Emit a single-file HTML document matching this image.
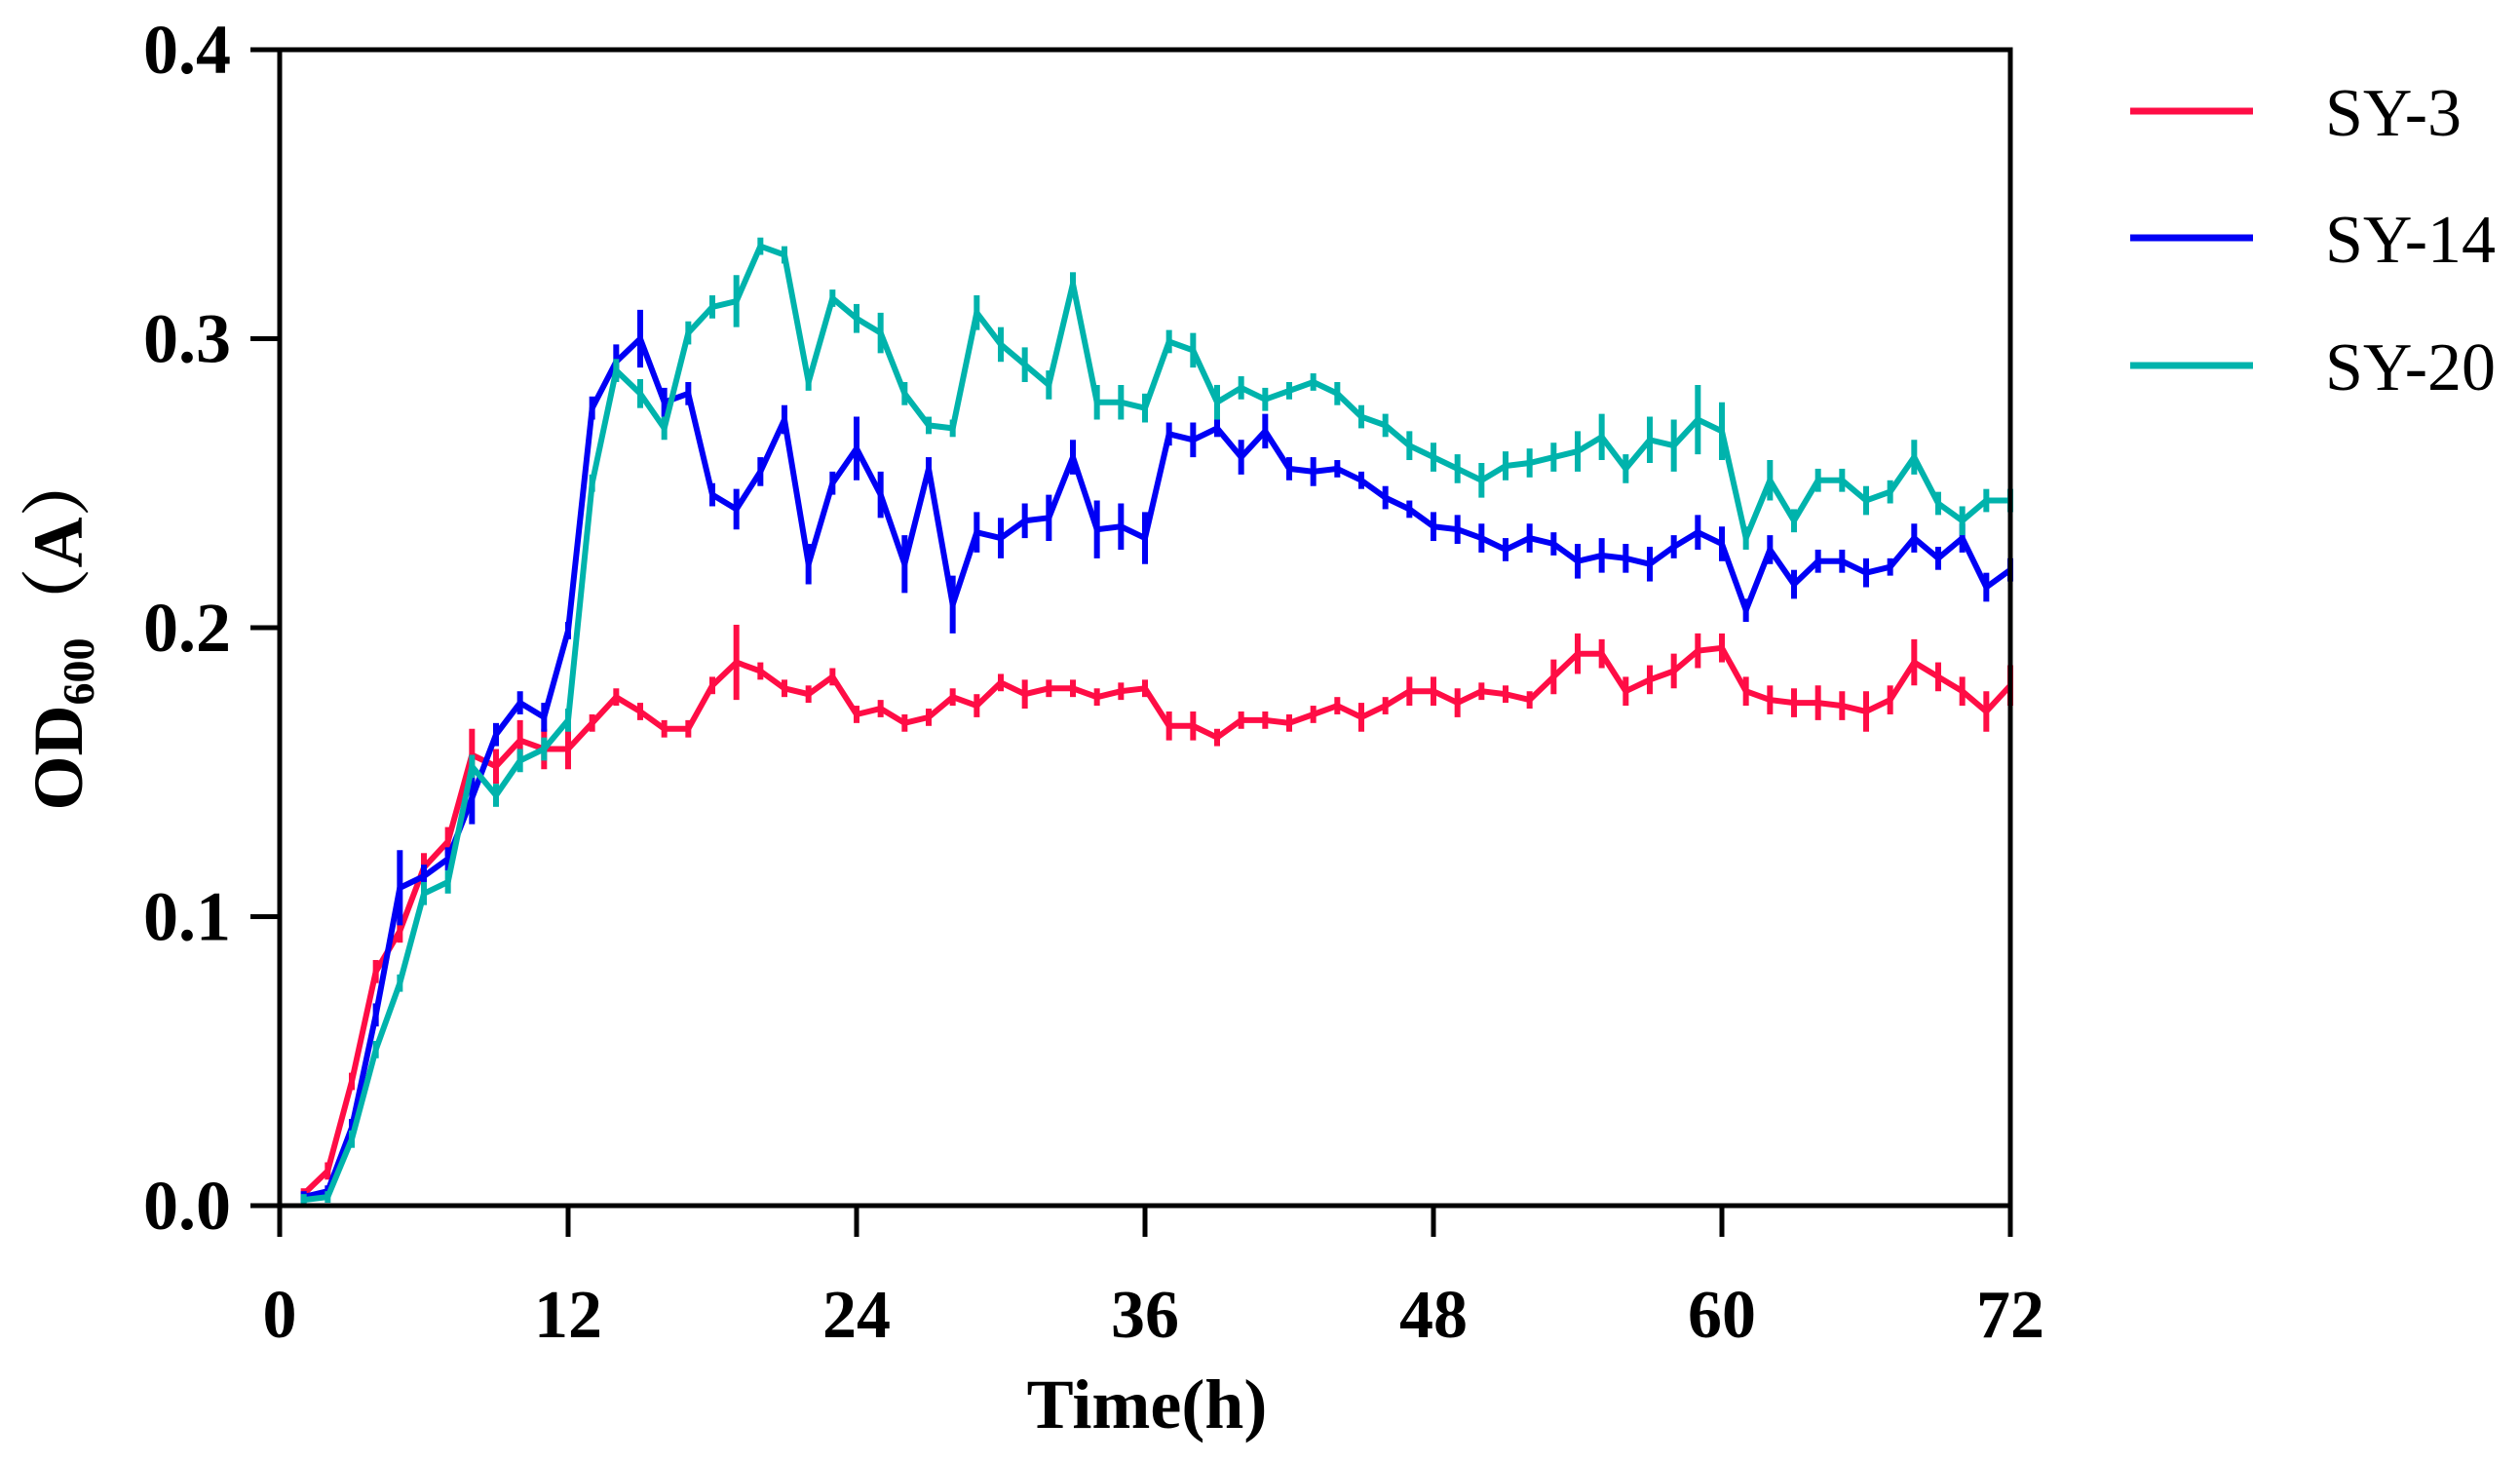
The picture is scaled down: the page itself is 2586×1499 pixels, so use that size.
<!DOCTYPE html>
<html><head><meta charset="utf-8"><style>
html,body{margin:0;padding:0;background:#fff;}
svg{display:block;}
text{font-family:"Liberation Serif","Noto Serif CJK SC",serif;}
</style></head><body>
<svg id="chart" width="2586" height="1499" viewBox="0 0 2586 1499" xmlns="http://www.w3.org/2000/svg">
<g id="plot"></g>
<g id="axes"></g>
<text transform="translate(84,645) rotate(-90)" text-anchor="middle" font-size="72" font-weight="bold">OD<tspan font-size="46" dy="12">600</tspan><tspan dy="-12">（A）</tspan></text>
<text x="1177" y="1465" text-anchor="middle" font-size="72" font-weight="bold">Time(h)</text>
<g id="legend"></g>
</svg>
<script>
const hours = [];
for (let h = 1; h <= 72; h++) hours.push(h);
const sy3 = [0.004,0.012,0.043,0.081,0.095,0.117,0.126,0.156,0.152,0.161,0.158,0.158,0.167,0.176,0.171,0.165,0.165,0.180,0.188,0.185,0.179,0.177,0.183,0.170,
0.172,0.167,0.169,0.176,0.173,0.181,0.177,0.179,0.179,0.176,0.178,0.179,0.166,0.166,0.162,0.168,0.168,0.167,0.170,0.173,0.169,0.173,0.178,0.178,
0.174,0.178,0.177,0.175,0.183,0.191,0.191,0.178,0.182,0.185,0.192,0.193,0.178,0.175,0.174,0.174,0.173,0.171,0.175,0.188,0.183,0.178,0.171,0.180];
const sy14 = [0.003,0.005,0.027,0.066,0.110,0.114,0.120,0.141,0.163,0.174,0.169,0.199,0.276,0.292,0.300,0.278,0.281,0.246,0.241,0.254,0.272,0.222,0.250,0.262,
0.246,0.222,0.255,0.208,0.233,0.231,0.237,0.238,0.259,0.234,0.235,0.231,0.267,0.265,0.269,0.259,0.268,0.255,0.254,0.255,0.251,0.245,0.241,0.235,
0.234,0.231,0.227,0.231,0.229,0.223,0.225,0.224,0.222,0.228,0.233,0.229,0.206,0.227,0.215,0.223,0.223,0.219,0.221,0.231,0.224,0.231,0.214,0.220];
const sy20 = [0.002,0.003,0.023,0.054,0.077,0.108,0.112,0.152,0.142,0.154,0.158,0.168,0.250,0.289,0.281,0.269,0.302,0.311,0.313,0.332,0.329,0.285,0.314,0.307,
0.302,0.281,0.270,0.269,0.309,0.298,0.291,0.284,0.319,0.278,0.278,0.276,0.299,0.296,0.278,0.283,0.279,0.282,0.285,0.281,0.273,0.270,0.263,0.259,
0.255,0.251,0.256,0.257,0.259,0.261,0.266,0.255,0.265,0.263,0.272,0.268,0.231,0.251,0.237,0.251,0.251,0.244,0.247,0.259,0.243,0.237,0.244,0.244];
const err3 = [0.002,0.003,0.003,0.004,0.004,0.005,0.005,0.009,0.006,0.007,0.007,0.007,0.003,0.003,0.003,0.003,0.003,0.003,0.013,0.003,0.003,0.003,0.003,0.003,
0.003,0.003,0.003,0.003,0.004,0.003,0.005,0.003,0.003,0.003,0.003,0.003,0.005,0.005,0.003,0.003,0.003,0.003,0.003,0.003,0.005,0.003,0.005,0.005,
0.005,0.003,0.003,0.003,0.006,0.007,0.005,0.005,0.005,0.006,0.006,0.005,0.005,0.005,0.005,0.006,0.005,0.007,0.005,0.008,0.005,0.005,0.007,0.007];
const err14 = [0.002,0.002,0.003,0.004,0.013,0.004,0.004,0.009,0.004,0.004,0.005,0.003,0.004,0.006,0.010,0.005,0.004,0.004,0.007,0.005,0.005,0.007,0.004,0.011,
0.008,0.010,0.004,0.010,0.007,0.007,0.006,0.008,0.006,0.010,0.008,0.009,0.004,0.006,0.003,0.006,0.006,0.004,0.005,0.003,0.003,0.004,0.003,0.005,
0.005,0.005,0.004,0.005,0.004,0.006,0.006,0.005,0.006,0.004,0.006,0.006,0.004,0.005,0.005,0.004,0.004,0.005,0.003,0.005,0.004,0.005,0.005,0.004];
const err20 = [0.002,0.002,0.003,0.003,0.003,0.004,0.004,0.004,0.004,0.004,0.004,0.004,0.003,0.004,0.005,0.004,0.004,0.004,0.009,0.003,0.003,0.003,0.003,0.005,
0.007,0.004,0.003,0.003,0.006,0.006,0.006,0.005,0.004,0.006,0.006,0.005,0.004,0.006,0.006,0.004,0.004,0.003,0.003,0.004,0.004,0.004,0.005,0.005,
0.005,0.006,0.005,0.005,0.005,0.007,0.008,0.005,0.008,0.009,0.012,0.010,0.004,0.007,0.004,0.004,0.004,0.005,0.004,0.006,0.004,0.005,0.004,0.004];
const xTicks = [0,12,24,36,48,60,72];
const yTicks = [0.0,0.1,0.2,0.3,0.4];
const yTickLabels = ["0.0","0.1","0.2","0.3","0.4"];
const seriesNames = ["SY-3","SY-14","SY-20"];
const seriesColors = ["#ff0d45","#0000f5","#00b3ac"];

const X0=287, X1=2063, Y0=1237, Y1=51;
const xs = h => X0 + (h/72)*(X1-X0);
const ys = v => Y0 - (v/0.4)*(Y0-Y1);
const NS="http://www.w3.org/2000/svg";
function mk(tag, attrs, parent){const e=document.createElementNS(NS,tag);for(const k in attrs)e.setAttribute(k,attrs[k]);parent.appendChild(e);return e;}

const plot=document.getElementById('plot');
const allSeries=[sy3,sy14,sy20], allErr=[err3,err14,err20];
allSeries.forEach((vals,si)=>{
  const g=mk('g',{},plot);
  
  
  vals.forEach((v,i)=>{
    const e=allErr[si][i];
    const bar=mk('line',{x1:xs(hours[i]),x2:xs(hours[i]),y1:ys(v+e),y2:ys(v-e),stroke:seriesColors[si],'stroke-width':6},g);
    
    
  });
  const pts=vals.map((v,i)=>xs(hours[i]).toFixed(1)+','+ys(v).toFixed(1)).join(' ');
  const pl=mk('polyline',{points:pts,fill:'none',stroke:seriesColors[si],'stroke-width':6,'stroke-linejoin':'miter'},g);
  
  
});

const axes=document.getElementById('axes');
const frame=mk('rect',{x:X0,y:Y1,width:X1-X0,height:Y0-Y1,fill:'none',stroke:'#000','stroke-width':5},axes);


xTicks.forEach(t=>{
  const tk=mk('line',{x1:xs(t),x2:xs(t),y1:Y0,y2:Y0+32,stroke:'#000','stroke-width':5},axes);
  
  
  const lb=mk('text',{x:xs(t),y:1372,'text-anchor':'middle','font-size':70,'font-weight':'bold'},axes);
  lb.textContent=t;
  
  
});
yTicks.forEach((t,i)=>{
  const tk=mk('line',{x1:X0-30,x2:X0,y1:ys(t),y2:ys(t),stroke:'#000','stroke-width':5},axes);
  
  
  const lb=mk('text',{x:237,y:ys(t)+24,'text-anchor':'end','font-size':72,'font-weight':'bold'},axes);
  lb.textContent=yTickLabels[i];
  
  
});

const legend=document.getElementById('legend');
const legY=[114,244,375];
seriesNames.forEach((n,i)=>{
  const g=mk('g',{},legend);
  
  
  mk('line',{x1:2186,x2:2312,y1:legY[i],y2:legY[i],stroke:seriesColors[i],'stroke-width':7},g);
  const t=mk('text',{x:2386,y:legY[i]+25,'font-size':70},g);
  t.textContent=n;
});
</script>
</body></html>
